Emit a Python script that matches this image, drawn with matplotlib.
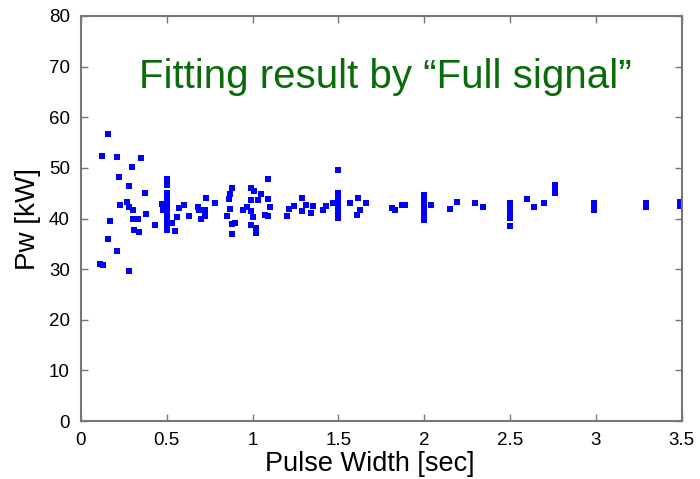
import matplotlib.pyplot as plt

plt.rcParams['font.family'] = ['Liberation Sans', 'DejaVu Sans']

# pulse width [sec] and fitted power [kW]
pulse_width = [
    0.16, 0.12, 0.21, 0.35, 0.30, 0.22, 0.28, 0.37, 0.23, 0.27, 0.28, 0.305,
    0.305, 0.33, 0.38, 0.17, 0.31, 0.34, 0.43, 0.16, 0.21, 0.11, 0.13, 0.28,
    0.50, 0.50, 0.50, 0.50, 0.50, 0.50, 0.50, 0.50, 0.50, 0.50,
    0.47, 0.475, 0.53, 0.55, 0.56, 0.57, 0.60, 0.63, 0.68, 0.69, 0.73, 0.72,
    0.72, 0.70, 0.78, 0.85, 0.86, 0.87, 0.88, 0.87, 0.88, 0.90, 0.88,
    0.99, 1.01, 1.05, 1.03, 0.99, 0.965, 0.945, 0.99, 1.00, 0.99, 1.02, 1.02,
    1.07, 1.09, 1.09, 1.10, 1.09,
    1.50, 1.20, 1.21, 1.24, 1.29, 1.285, 1.31, 1.34, 1.35, 1.41, 1.43, 1.47,
    1.50, 1.50, 1.50, 1.50, 1.50, 1.50,
    1.57, 1.615, 1.625, 1.605, 1.66, 1.81, 1.83, 1.87, 1.89,
    2.00, 2.00, 2.00, 2.00, 2.00, 2.00, 2.04, 2.15, 2.19,
    2.295, 2.34, 2.50, 2.50, 2.50, 2.50, 2.50, 2.60, 2.64, 2.70,
    2.76, 2.76, 2.76, 2.99, 2.99, 2.99, 3.29, 3.29, 3.49, 3.49,
]
power = [
    56.7, 52.4, 52.1, 51.9, 50.1, 48.2, 46.5, 45.0, 42.7, 43.3, 42.2, 41.6,
    39.9, 39.9, 40.8, 39.6, 37.7, 37.4, 38.8, 35.9, 33.6, 31.0, 30.8, 29.7,
    47.8, 46.6, 45.0, 44.0, 42.9, 41.7, 40.7, 39.7, 38.7, 37.7,
    42.9, 41.7, 39.2, 37.6, 40.3, 42.0, 42.7, 40.5, 42.2, 41.7, 44.1, 41.7,
    40.5, 40.0, 43.0, 40.4, 43.8, 44.9, 46.0, 41.9, 39.0, 39.2, 37.0,
    46.1, 45.5, 44.9, 43.7, 43.7, 42.2, 41.6, 41.5, 40.3, 38.7, 38.1, 37.1,
    40.7, 40.4, 43.9, 42.2, 47.8,
    49.6, 40.5, 41.8, 42.5, 44.0, 41.4, 42.7, 41.0, 42.4, 41.7, 42.4, 43.0,
    45.0, 44.0, 43.0, 42.0, 41.0, 40.1,
    43.1, 44.0, 41.7, 40.7, 43.0, 42.0, 41.6, 42.7, 42.7,
    44.7, 43.7, 42.7, 41.7, 40.7, 39.7, 42.7, 41.8, 43.3,
    43.0, 42.2, 43.0, 42.0, 41.0, 40.1, 38.5, 43.9, 42.2, 43.1,
    46.6, 46.0, 45.0, 43.0, 42.3, 41.7, 43.1, 42.3, 43.3, 42.4,
]

fig = plt.figure(figsize=(7, 4.79), dpi=100)
ax = fig.add_axes([0.1157, 0.121, 0.8583, 0.8456])

ax.plot(pulse_width, power, 's', color='#0000ff', markersize=4.8,
        markeredgewidth=0, clip_on=False)

ax.set_xlim(0, 3.5)
ax.set_ylim(0, 80)
ax.set_xticks([0, 0.5, 1, 1.5, 2, 2.5, 3, 3.5])
ax.set_xticklabels(['0', '0.5', '1', '1.5', '2', '2.5', '3', '3.5'])
ax.set_yticks(range(0, 81, 10))

for s in ax.spines.values():
    s.set_color('#777777')
    s.set_linewidth(1.5)
ax.tick_params(direction='in', length=5, width=1, color='#777777',
               top=True, right=True, labelsize=13.5, pad=8)

ax.set_xlabel('Pulse Width [sec]', fontsize=19.5)
ax.xaxis.set_label_coords(0.48, -0.074)
ax.set_ylabel('Pw [kW]', fontsize=20)
ax.yaxis.set_label_coords(-0.066, 0.5)

ax.text(0.506, 0.822, 'Fitting result by \u201cFull signal\u201d',
        transform=ax.transAxes, ha='center', va='baseline',
        fontsize=29, color='#0a6b0a')

fig.savefig('out.png', dpi=100)
